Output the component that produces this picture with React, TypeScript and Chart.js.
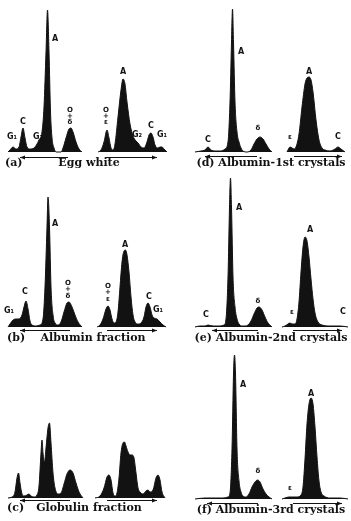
import React, { useEffect, useRef } from "react";
import { Chart, registerables } from "chart.js";
Chart.register(...registerables);

// ---- Data: migration position (arbitrary units) and gradient height ----
// (a) Egg white
const aDescX = [8, 10, 13, 16, 19, 21, 23, 25, 27, 30, 34, 37, 39, 42, 44, 46, 47.5, 49, 50.5, 52, 54, 56, 61, 63, 66, 69, 71, 73, 76, 79, 82];
const aDescY = [0, 2, 5, 3, 5, 15, 24, 14, 5, 3, 4, 8, 12, 20, 45, 100, 142, 100, 40, 14, 4, 0, 0, 4, 14, 23, 24, 20, 10, 3, 0];
const aAscX = [98, 101, 104, 107, 109, 111, 113, 115, 118, 121, 123, 125, 127, 130, 133, 136, 138, 141, 144, 147, 149, 151, 153, 155, 158, 160, 162, 164, 167];
const aAscY = [0, 2, 10, 22, 14, 4, 2, 8, 35, 62, 73, 68, 50, 28, 16, 11, 9, 5, 4, 10, 17, 19, 15, 7, 4, 5, 5, 3, 0];
// (b) Albumin fraction
const bDescX = [8, 10, 13, 16, 19, 22, 24, 26, 28, 30, 32, 36, 40, 43, 45, 47, 48, 49.5, 51, 53, 55, 58, 61, 64, 67, 69, 72, 75, 78, 82];
const bDescY = [0, 3, 7, 8, 8, 12, 20, 26, 18, 6, 2, 1, 2, 8, 40, 100, 130, 100, 40, 12, 4, 2, 5, 15, 24, 25, 20, 12, 5, 0];
const bAscX = [97, 100, 103, 106, 108, 110, 112, 114, 116, 118, 120, 122, 124, 125.5, 127, 129, 131, 133, 135, 138, 141, 144, 146, 148, 150, 152, 154, 157, 160, 163, 166];
const bAscY = [0, 2, 8, 18, 21, 17, 8, 4, 5, 15, 40, 65, 76, 77, 72, 55, 30, 12, 5, 3, 4, 10, 20, 24, 20, 12, 9, 8, 5, 2, 0];
// (c) Globulin fraction
const cDescX = [8, 12, 15, 17, 18.5, 20, 22, 24, 27, 29, 31, 34, 37, 39, 41, 42, 43, 44.5, 46, 48, 49.5, 51, 53, 55, 58, 61, 64, 67, 70, 73, 76, 79, 83];
const cDescY = [0, 1, 6, 20, 25, 15, 4, 2, 3, 4, 2, 1, 3, 12, 45, 58, 45, 36, 50, 70, 75, 55, 25, 10, 4, 5, 14, 24, 28, 25, 15, 6, 0];
const cAscX = [95, 100, 104, 107, 109, 111, 113, 115, 117, 119, 121, 123, 124.5, 126, 128, 130, 132, 134, 136, 138, 140, 143, 146, 148, 150, 153, 156, 158, 160, 162, 165];
const cAscY = [0, 2, 10, 21, 23, 18, 5, 2, 5, 20, 45, 55, 56, 52, 46, 43, 43, 40, 25, 10, 6, 4, 7, 8, 6, 8, 20, 23, 18, 6, 0];
// (d) Albumin - 1st crystals
const dDescX = [20, 26, 30, 33, 36, 40, 46, 50, 53, 55, 56.5, 57.5, 58.5, 60, 62, 64, 66, 68, 72, 76, 79, 82, 85, 88, 91, 94, 97];
const dDescY = [0, 1, 2, 5, 2, 1, 1, 3, 10, 50, 110, 143, 110, 50, 20, 10, 4, 1, 0, 2, 8, 13, 15, 13, 8, 3, 0];
const dAscX = [112, 113, 115, 117, 119, 121, 124, 127, 130, 132, 134, 136, 138, 141, 144, 147, 150, 155, 160, 163, 166, 170];
const dAscY = [0, 2, 5, 4, 3, 5, 18, 45, 68, 74, 75, 72, 60, 32, 12, 4, 2, 1, 3, 5, 3, 0];
// (e) Albumin - 2nd crystals
const eDescX = [20, 25, 30, 33, 38, 45, 49, 51, 53, 54.5, 55.5, 56.5, 58, 60, 62, 64, 67, 70, 73, 76, 79, 82, 84, 87, 90, 93, 97];
const eDescY = [0, 1, 1, 2, 1, 1, 2, 8, 50, 120, 149, 120, 50, 20, 8, 3, 1, 1, 2, 6, 13, 19, 20, 17, 10, 4, 0];
const eAscX = [107, 110, 113, 115, 117, 120, 122, 124, 126, 128, 130, 132, 134, 136, 138, 140, 143, 147, 155, 165, 173];
const eAscY = [0, 1, 3, 4, 3, 3, 8, 25, 55, 80, 90, 86, 70, 48, 28, 14, 5, 2, 1, 1, 0];
// (f) Albumin - 3rd crystals
const fDescX = [20, 30, 40, 48, 53, 55, 57, 58.5, 59.5, 60.5, 62, 64, 66, 68, 71, 74, 77, 80, 82.5, 85, 88, 91, 94, 97];
const fDescY = [0, 1, 1, 1, 2, 6, 50, 125, 144, 125, 50, 18, 7, 3, 2, 5, 12, 17, 19, 17, 10, 5, 2, 0];
const fAscX = [107, 110, 114, 118, 122, 126, 128, 130, 132, 134, 136, 138, 140, 142, 144, 146, 149, 155, 165, 173];
const fAscY = [0, 1, 2, 2, 2, 4, 12, 40, 75, 95, 101, 95, 72, 42, 18, 7, 3, 1, 1, 0];

// ---- Annotations ----
type Lbl = { x: number; h: number; t: string; s?: number };
type Arrow = { x1: number; x2: number; h: number; dir: "l" | "r" };
type Cap = { t: string; x: number; align: "left" | "center" };

type PanelDef = {
  left: number; top: number; w: number; h: number; base: number;
  series: [number[], number[]][];
  labels: Lbl[]; arrows: Arrow[]; caps: Cap[]; capH: number;
};

const panels: PanelDef[] = [
  {
    left: 0, top: 0, w: 175, h: 175, base: 152,
    series: [[aDescX, aDescY], [aAscX, aAscY]],
    labels: [
      { x: 12, h: 15, t: "G₁" }, { x: 23, h: 30, t: "C" }, { x: 38, h: 15, t: "G₂" },
      { x: 55, h: 113, t: "A" },
      { x: 70, h: 42, t: "O", s: 7 }, { x: 70, h: 36, t: "+", s: 7 }, { x: 70, h: 30, t: "δ", s: 7 },
      { x: 106, h: 42, t: "O", s: 7 }, { x: 106, h: 36, t: "+", s: 7 }, { x: 106, h: 30, t: "ε", s: 7 },
      { x: 123, h: 80, t: "A" }, { x: 137, h: 17, t: "G₂" }, { x: 151, h: 26, t: "C" }, { x: 162, h: 17, t: "G₁" },
    ],
    arrows: [{ x1: 20, x2: 68, h: -5, dir: "l" }, { x1: 106, x2: 157, h: -5, dir: "r" }],
    caps: [{ t: "(a)", x: 5, align: "left" }, { t: "Egg white", x: 89, align: "center" }], capH: -11,
  },
  {
    left: 175, top: 0, w: 176, h: 175, base: 152,
    series: [[dDescX, dDescY], [dAscX, dAscY]],
    labels: [
      { x: 33, h: 12, t: "C" }, { x: 66, h: 100, t: "A" }, { x: 83, h: 24, t: "δ", s: 7 },
      { x: 115, h: 15, t: "ε", s: 7 }, { x: 134, h: 80, t: "A" }, { x: 163, h: 15, t: "C" },
    ],
    arrows: [{ x1: 30, x2: 82, h: -4, dir: "l" }, { x1: 119, x2: 167, h: -4, dir: "r" }],
    caps: [{ t: "(d) Albumin-1st crystals", x: 96, align: "center" }], capH: -11,
  },
  {
    left: 0, top: 175, w: 175, h: 170, base: 152,
    series: [[bDescX, bDescY], [bAscX, bAscY]],
    labels: [
      { x: 9, h: 16, t: "G₁" }, { x: 25, h: 35, t: "C" }, { x: 55, h: 103, t: "A" },
      { x: 68, h: 44, t: "O", s: 7 }, { x: 68, h: 38, t: "+", s: 7 }, { x: 68, h: 31, t: "δ", s: 7 },
      { x: 108, h: 41, t: "O", s: 7 }, { x: 108, h: 35, t: "+", s: 7 }, { x: 108, h: 28, t: "ε", s: 7 },
      { x: 125, h: 82, t: "A" }, { x: 149, h: 30, t: "C" }, { x: 158, h: 17, t: "G₁" },
    ],
    arrows: [{ x1: 20, x2: 70, h: -3, dir: "l" }, { x1: 107, x2: 157, h: -3, dir: "r" }],
    caps: [{ t: "(b)", x: 7, align: "left" }, { t: "Albumin fraction", x: 93, align: "center" }], capH: -11,
  },
  {
    left: 175, top: 175, w: 176, h: 170, base: 152,
    series: [[eDescX, eDescY], [eAscX, eAscY]],
    labels: [
      { x: 31, h: 12, t: "C" }, { x: 64, h: 119, t: "A" }, { x: 83, h: 26, t: "δ", s: 7 },
      { x: 117, h: 15, t: "ε", s: 7 }, { x: 135, h: 97, t: "A" }, { x: 168, h: 15, t: "C" },
    ],
    arrows: [{ x1: 37, x2: 83, h: -3, dir: "l" }, { x1: 118, x2: 167, h: -3, dir: "r" }],
    caps: [{ t: "(e) Albumin-2nd crystals", x: 96, align: "center" }], capH: -11,
  },
  {
    left: 0, top: 345, w: 175, h: 176, base: 153,
    series: [[cDescX, cDescY], [cAscX, cAscY]],
    labels: [],
    arrows: [{ x1: 20, x2: 70, h: -2, dir: "l" }, { x1: 107, x2: 157, h: -2, dir: "r" }],
    caps: [{ t: "(c)", x: 7, align: "left" }, { t: "Globulin fraction", x: 89, align: "center" }], capH: -10,
  },
  {
    left: 175, top: 345, w: 176, h: 176, base: 154,
    series: [[fDescX, fDescY], [fAscX, fAscY]],
    labels: [
      { x: 68, h: 114, t: "A" }, { x: 83, h: 28, t: "δ", s: 7 },
      { x: 115, h: 11, t: "ε", s: 7 }, { x: 136, h: 105, t: "A" },
    ],
    arrows: [{ x1: 32, x2: 83, h: -4, dir: "l" }, { x1: 118, x2: 167, h: -4, dir: "r" }],
    caps: [{ t: "(f) Albumin-3rd crystals", x: 96, align: "center" }], capH: -11,
  },
];

const INK = "#121212";

function Panel({ p }: { p: PanelDef }) {
  const ref = useRef<HTMLCanvasElement | null>(null);
  useEffect(() => {
    if (!ref.current) return;
    const annot = {
      id: "annot",
      afterDatasetsDraw(chart: any) {
        const ctx = chart.ctx as CanvasRenderingContext2D;
        const xs = chart.scales.x;
        const ys = chart.scales.y;
        ctx.save();
        ctx.fillStyle = INK;
        ctx.strokeStyle = INK;
        ctx.textBaseline = "middle";
        ctx.textAlign = "center";
        for (const l of p.labels) {
          ctx.font = `bold ${l.s || 8}px "DejaVu Sans"`;
          ctx.fillText(l.t, xs.getPixelForValue(l.x), ys.getPixelForValue(l.h));
        }
        for (const a of p.arrows) {
          const x1 = xs.getPixelForValue(a.x1);
          const x2 = xs.getPixelForValue(a.x2);
          const y = Math.round(ys.getPixelForValue(a.h)) + 0.5;
          ctx.lineWidth = 1;
          ctx.beginPath();
          ctx.moveTo(x1, y);
          ctx.lineTo(x2, y);
          ctx.stroke();
          const tip = a.dir === "l" ? x1 : x2;
          const back = a.dir === "l" ? 5 : -5;
          ctx.beginPath();
          ctx.moveTo(tip, y);
          ctx.lineTo(tip + back, y - 2);
          ctx.lineTo(tip + back, y + 2);
          ctx.closePath();
          ctx.fill();
        }
        ctx.font = `bold 11px "DejaVu Serif"`;
        for (const c of p.caps) {
          ctx.textAlign = c.align;
          ctx.fillText(c.t, xs.getPixelForValue(c.x), ys.getPixelForValue(p.capH));
        }
        ctx.restore();
      },
    };
    const chart = new Chart(ref.current, {
      type: "line",
      data: {
        datasets: p.series.map(([X, Y]) => ({
          data: X.map((x, i) => ({ x, y: Y[i] })),
          fill: "origin",
          backgroundColor: INK,
          borderColor: INK,
          borderWidth: 1,
          pointRadius: 0,
          tension: 0.4,
          cubicInterpolationMode: "monotone" as const,
        })),
      },
      options: {
        animation: false,
        responsive: false,
        devicePixelRatio: 1,
        layout: { padding: 0 },
        plugins: { legend: { display: false }, tooltip: { enabled: false } },
        scales: {
          x: { type: "linear", display: false, min: 0, max: p.w },
          y: { type: "linear", display: false, min: p.base - p.h, max: p.base },
        },
      },
      plugins: [annot],
    });
    return () => chart.destroy();
  }, [p]);
  return (
    <canvas
      ref={ref}
      width={p.w}
      height={p.h}
      style={{ position: "absolute", left: p.left, top: p.top, width: p.w, height: p.h }}
    />
  );
}

export default function App() {
  return (
    <div style={{ position: "absolute", left: 0, top: 0, width: 351, height: 521, background: "#fff", overflow: "hidden" }}>
      {panels.map((p, i) => (
        <Panel key={i} p={p} />
      ))}
    </div>
  );
}
